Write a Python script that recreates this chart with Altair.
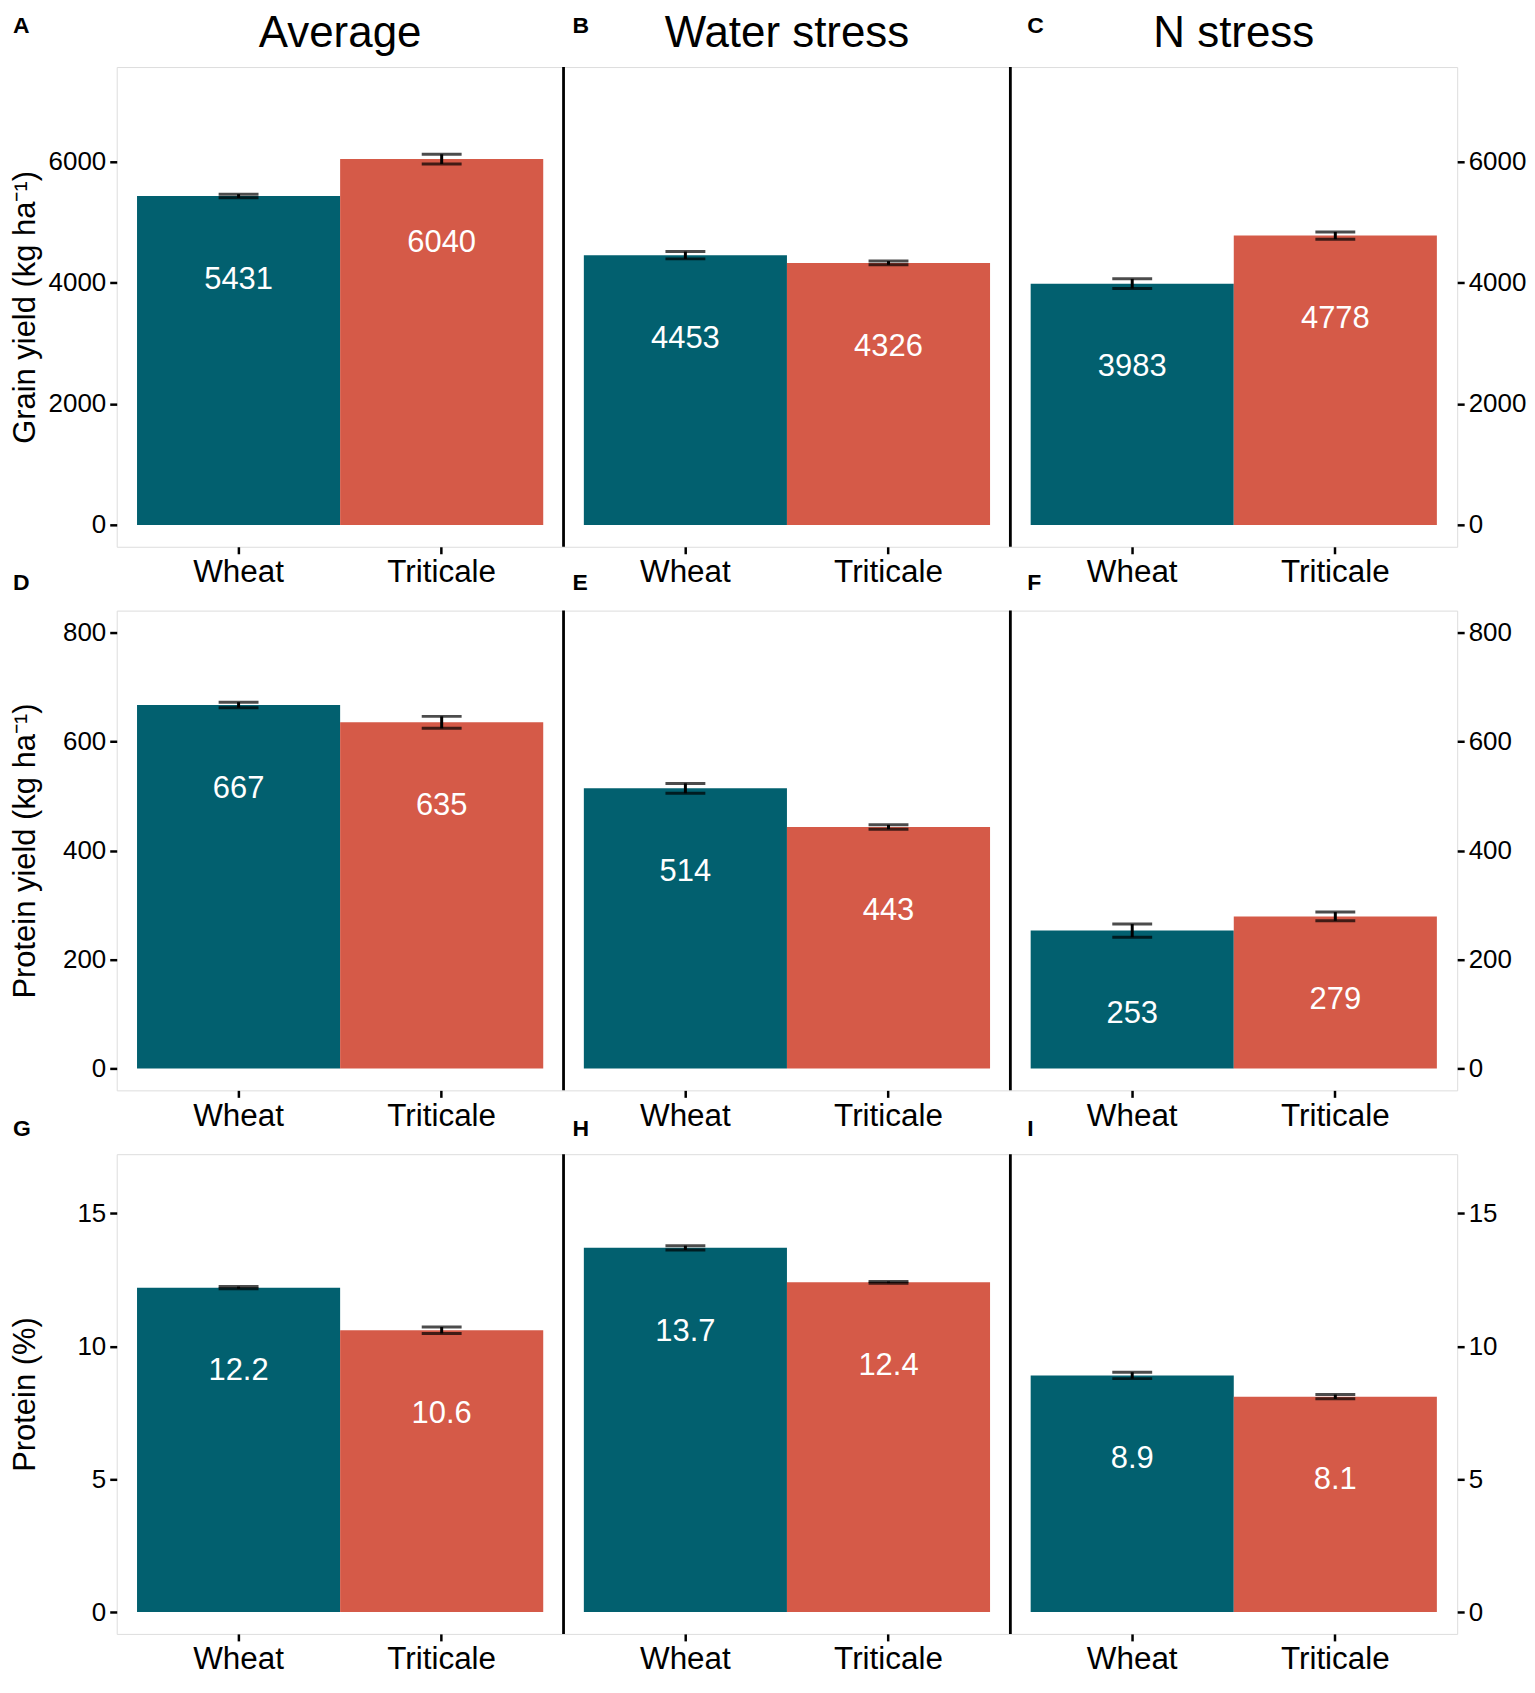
import altair as alt
import pandas as pd

categories = ["Wheat", "Triticale"]
conditions = ["Average", "Water stress", "N stress"]
letters = [["A", "B", "C"], ["D", "E", "F"], ["G", "H", "I"]]

grain_yield = [[5431, 6040], [4453, 4326], [3983, 4778]]
grain_se = [[30, 80], [60, 30], [80, 60]]
protein_yield = [[667, 635], [514, 443], [253, 279]]
protein_yield_se = [[5, 11], [9, 4], [12, 8]]
protein_pct = [[12.2, 10.6], [13.7, 12.4], [8.9, 8.1]]
protein_pct_se = [[0.04, 0.12], [0.08, 0.03], [0.12, 0.08]]

row_values = [grain_yield, protein_yield, protein_pct]
row_se = [grain_se, protein_yield_se, protein_pct_se]
row_titles = ["Grain yield (kg  ha⁻¹)", "Protein yield (kg  ha⁻¹)", "Protein (%)"]
row_ticks = [[0, 2000, 4000, 6000], [0, 200, 400, 600, 800], [0, 5, 10, 15]]
row_domain = [[-360, 7560], [-40, 840], [-0.82, 17.22]]
letter_y = [-34, -21, -18]

W, H = 448, 481
FONT = "Liberation Sans"
colors = ["#02606F", "#D55A48"]


def panel(r, c):
    vals = row_values[r][c]
    ses = row_se[r][c]
    df = pd.DataFrame({
        "cat": categories,
        "value": vals,
        "lo": [v - s for v, s in zip(vals, ses)],
        "hi": [v + s for v, s in zip(vals, ses)],
        "base": [0, 0],
        "label": [str(v) for v in vals],
    })
    xenc = alt.X(
        "cat:N", sort=categories, title=None,
        scale=alt.Scale(domain=categories, paddingInner=0, paddingOuter=0.1),
        axis=alt.Axis(labelAngle=0, labelFontSize=31.5, labelFont=FONT, labelColor="black",
                      tickSize=7, tickWidth=2.5, tickColor="black", domain=False,
                      labelPadding=3, grid=False),
    )
    common = dict(values=row_ticks[r], format="d", labelFontSize=26, labelFont=FONT,
                  labelColor="black", tickSize=7, tickWidth=2.5, tickColor="black",
                  domain=False, grid=False, labelPadding=4)
    if c == 0:
        yaxis = alt.Axis(orient="left", title=row_titles[r], titleFontSize=31, titleFont=FONT,
                         titleFontWeight="normal", titleColor="black", titlePadding=6,
                         minExtent=69, maxExtent=69, **common)
    elif c == 2:
        yaxis = alt.Axis(orient="right", title=None, **common)
    else:
        yaxis = None
    yscale = alt.Scale(domain=row_domain[r], nice=False, zero=False)

    def Y(field):
        return alt.Y(field, scale=yscale, axis=yaxis, title=row_titles[r] if c == 0 else None)

    base = alt.Chart(df)
    bars = base.mark_bar().encode(
        x=xenc, y=Y("value:Q"), y2="base:Q",
        color=alt.Color("cat:N", scale=alt.Scale(domain=categories, range=colors), legend=None),
    )
    err = base.mark_rule(color="black", strokeWidth=3).encode(x=xenc, y=Y("lo:Q"), y2="hi:Q")
    cap_lo = base.mark_tick(orient="horizontal", size=40, thickness=3, color="black").encode(
        x=xenc, y=Y("lo:Q"))
    cap_hi = base.mark_tick(orient="horizontal", size=40, thickness=3, color="black").encode(
        x=xenc, y=Y("hi:Q"))
    txt = base.mark_text(color="white", fontSize=31, font=FONT, baseline="middle", dy=84).encode(
        x=xenc, y=Y("value:Q"), text="label:N")

    layers = [bars, err, cap_lo, cap_hi, txt]

    lx = -104 if c == 0 else (9 if c == 1 else 17)
    letter = alt.Chart(pd.DataFrame({"t": [letters[r][c]]})).mark_text(
        font=FONT, fontWeight="bold", fontSize=23, align="left", baseline="alphabetic",
        color="black").encode(x=alt.value(lx), y=alt.value(letter_y[r]), text="t:N")
    layers.append(letter)

    if r == 0:
        ttl = alt.Chart(pd.DataFrame({"t": [conditions[c]]})).mark_text(
            font=FONT, fontSize=44, align="center", baseline="alphabetic", color="black"
        ).encode(x=alt.value(W / 2), y=alt.value(-20), text="t:N")
        layers.append(ttl)

    if c > 0:
        div = alt.Chart(pd.DataFrame({"t": [0]})).mark_rule(color="black", strokeWidth=2.8).encode(
            x=alt.value(0), y=alt.value(0), y2=alt.value(H))
        layers.append(div)

    return alt.layer(*layers).properties(width=W, height=H)


panels = [panel(r, c) for r in range(3) for c in range(3)]

chart = alt.concat(*panels, columns=3, spacing={"row": 64, "column": 0}, bounds="flush").properties(
    padding={"left": 1, "top": 1, "right": 0, "bottom": 0},
    background="white",
).configure_view(stroke="#222222", strokeWidth=1.5).configure(font=FONT)

chart.save("out.html", embed_options={"renderer": "svg", "actions": False})
